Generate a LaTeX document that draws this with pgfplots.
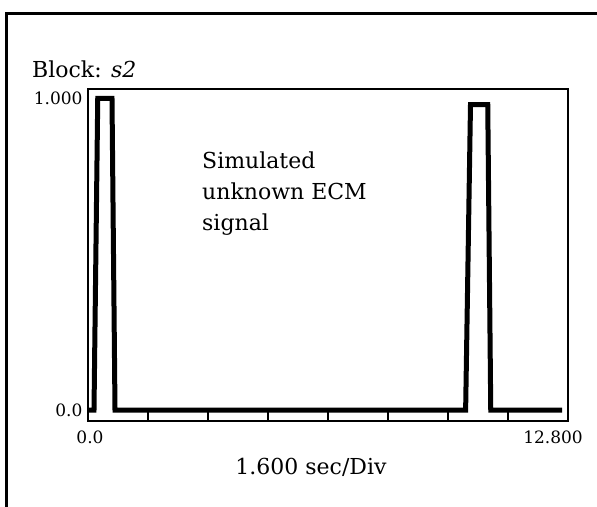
\documentclass[border=0pt]{standalone}
\usepackage{fontspec}
\setmainfont{DejaVu Serif}
\usepackage{pgfplots}
\pgfplotsset{compat=1.18}

\begin{document}
\begin{tikzpicture}[x=1pt,y=1pt]
\useasboundingbox (0,0) rectangle (597,-506);
% outer frame (only top and left edges are visible)
\draw[line width=3pt] (6.5,-510) -- (6.5,-13) -- (605,-13);

\begin{axis}[
    at={(88pt,-421pt)}, anchor=south west,
    scale only axis,
    width=480pt, height=332pt,
    xmin=0, xmax=12.8,
    ymin=-0.035, ymax=1.030,
    axis line style={line width=2pt},
    xtick={0,1.6,...,12.8},
    xticklabels={},
    xtick pos=bottom,
    tick align=inside,
    major tick length=10pt,
    x tick style={line width=2pt, black},
    ytick={0,1},
    yticklabels={0.0,1.000},
    y tick style={draw=none},
    yticklabel style={font=\fontsize{17}{17}\selectfont, xshift=-2pt},
    clip=false,
]
\addplot[black, line width=5pt, line join=miter] coordinates {
    (0.03,0.00)
    (0.16,0.00)
    (0.26,1.00)
    (0.64,1.00)
    (0.72,0.00)
    (10.07,0.00)
    (10.20,0.98)
    (10.66,0.98)
    (10.74,0.00)
    (12.64,0.00)
};
\end{axis}

\node[anchor=base west, inner sep=0pt, font=\fontsize{22}{22}\selectfont] at (32,-77) {Block: \textit{s2}};
\node[anchor=north west, inner sep=0pt, align=left, font=\fontsize{22}{31}\selectfont] at (202,-152)
    {Simulated\\unknown ECM\\signal};
\node[font=\fontsize{17}{17}\selectfont] at (90,-437) {0.0};
\node[font=\fontsize{17}{17}\selectfont] at (553,-437) {12.800};
\node[font=\fontsize{22}{22}\selectfont] at (311,-467) {1.600 sec/Div};
\end{tikzpicture}
\end{document}
